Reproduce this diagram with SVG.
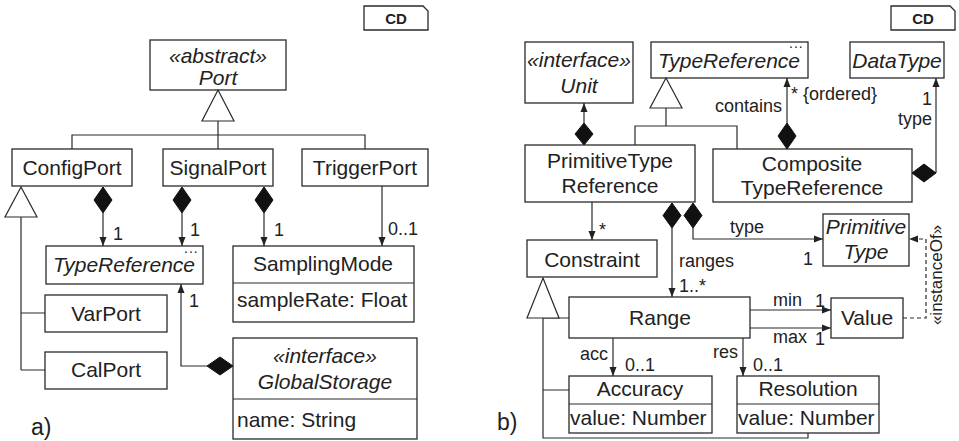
<svg xmlns="http://www.w3.org/2000/svg" width="959" height="441" viewBox="0 0 959 441">
<defs>
<marker id="arr" markerUnits="userSpaceOnUse" markerWidth="10" markerHeight="8" refX="9" refY="4" orient="auto">
<path d="M0,0.5 L9,4 L0,7.5 Z" fill="#222"/>
</marker>
<style>
.box{fill:#fff;stroke:#2a2a2a;stroke-width:1.3}
.ln{fill:none;stroke:#2a2a2a;stroke-width:1.2}
.dash{fill:none;stroke:#2a2a2a;stroke-width:1.2;stroke-dasharray:4 3}
.gen{fill:#fff;stroke:#2a2a2a;stroke-width:1.2}
.dia{fill:#111;stroke:#111;stroke-width:1}
text{font-family:"Liberation Sans",Arial,Helvetica,sans-serif;fill:#222}
.t{font-size:21px}
.c{text-anchor:middle}
.i{font-style:italic}
.s{font-size:18px}
.dots{font-size:14px;letter-spacing:1px}
.cd{font-size:15px;font-weight:bold;text-anchor:middle}
.lab{font-size:23px}
</style>
</defs>
<rect width="959" height="441" fill="#fff"/>

<!-- Panel a -->
<g id="cd-a"><path class="box" d="M364,6 H423 L428,11 V30 H364 Z"/><text class="cd" x="396" y="24">CD</text></g>
<g id="port"><rect class="box" x="150" y="40" width="136" height="50"/><text class="t c i" x="218" y="63">«abstract»</text><text class="t c i" x="218" y="85">Port</text></g>
<g id="configport"><rect class="box" x="12" y="149" width="120" height="37"/><text class="t c" x="72" y="175">ConfigPort</text></g>
<g id="signalport"><rect class="box" x="163" y="149" width="110" height="37"/><text class="t c" x="218" y="175">SignalPort</text></g>
<g id="triggerport"><rect class="box" x="302" y="149" width="126" height="37"/><text class="t c" x="365" y="175">TriggerPort</text></g>
<g id="typereference-a"><rect class="box" x="46" y="246" width="157" height="38"/><text class="t c i" x="124" y="272">TypeReference</text><text class="dots" x="184" y="253">...</text></g>
<g id="samplingmode"><rect class="box" x="233" y="246" width="181" height="76"/><line class="ln" x1="233" y1="283" x2="414" y2="283"/><text class="t c" x="323" y="271">SamplingMode</text><text class="t" x="237" y="307">sampleRate: Float</text></g>
<g id="varport"><rect class="box" x="45" y="295" width="122" height="37"/><text class="t c" x="106" y="321">VarPort</text></g>
<g id="calport"><rect class="box" x="45" y="352" width="122" height="37"/><text class="t c" x="106" y="377">CalPort</text></g>
<g id="globalstorage"><rect class="box" x="233" y="338" width="184" height="101"/><line class="ln" x1="233" y1="399" x2="417" y2="399"/><text class="t c i" x="325" y="363">«interface»</text><text class="t c i" x="325" y="389">GlobalStorage</text><text class="t" x="237" y="427">name: String</text></g>
<text class="lab" x="31" y="435">a)</text>

<!-- Panel b -->
<g id="cd-b"><path class="box" d="M891,6 H950 L955,11 V30 H891 Z"/><text class="cd" x="923" y="24">CD</text></g>
<g id="unit"><rect class="box" x="525" y="42" width="108" height="61"/><text class="t c i" x="579" y="67">«interface»</text><text class="t c i" x="579" y="93">Unit</text></g>
<g id="typereference-b"><rect class="box" x="651" y="42" width="157" height="36"/><text class="t c i" x="729" y="68">TypeReference</text><text class="dots" x="789" y="48">...</text></g>
<g id="datatype"><rect class="box" x="850" y="42" width="94" height="36"/><text class="t c i" x="897" y="68">DataType</text></g>
<g id="primitivetypereference"><rect class="box" x="525" y="145" width="170" height="57"/><text class="t c" x="610" y="168">PrimitiveType</text><text class="t c" x="610" y="193">Reference</text></g>
<g id="compositetypereference"><rect class="box" x="713" y="149" width="199" height="53"/><text class="t c" x="812" y="171">Composite</text><text class="t c" x="812" y="195">TypeReference</text></g>
<g id="constraint"><rect class="box" x="527" y="240" width="130" height="37"/><text class="t c" x="592" y="267">Constraint</text></g>
<g id="primitivetype"><rect class="box" x="823" y="214" width="86" height="52"/><text class="t c i" x="866" y="234">Primitive</text><text class="t c i" x="866" y="259">Type</text></g>
<g id="range"><rect class="box" x="569" y="297" width="181" height="41"/><text class="t c" x="660" y="325">Range</text></g>
<g id="value"><rect class="box" x="831" y="298" width="72" height="40"/><text class="t c" x="867" y="325">Value</text></g>
<g id="accuracy"><rect class="box" x="569" y="376" width="143" height="57"/><line class="ln" x1="569" y1="404" x2="712" y2="404"/><text class="t c" x="640" y="396">Accuracy</text><text class="t" x="570" y="425">value: Number</text></g>
<g id="resolution"><rect class="box" x="737" y="376" width="142" height="57"/><line class="ln" x1="737" y1="404" x2="879" y2="404"/><text class="t c" x="808" y="396">Resolution</text><text class="t" x="738" y="425">value: Number</text></g>
<text class="lab" x="497" y="430">b)</text>

<!-- Connectors -->
<g id="connectors">
<path class="ln" d="M218,121 V135 M72,149 V135 H365 V149 M218,135 V149"/>
<path class="gen" d="M218,90 L234,121 L202,121 Z"/>
<path class="ln" d="M103,213 V246" marker-end="url(#arr)"/>
<path class="dia" d="M103,187 L112,200 L103,213 L94,200 Z"/>
<text class="s" x="113" y="240">1</text>
<path class="ln" d="M182,213 V246" marker-end="url(#arr)"/>
<path class="dia" d="M182,187 L191,200 L182,213 L173,200 Z"/>
<text class="s" x="190" y="236">1</text>
<path class="ln" d="M264,213 V246" marker-end="url(#arr)"/>
<path class="dia" d="M264,187 L273,200 L264,213 L255,200 Z"/>
<text class="s" x="274" y="236">1</text>
<path class="ln" d="M382,186 V246" marker-end="url(#arr)"/>
<text class="s" x="388" y="235">0..1</text>
<path class="ln" d="M21,217 V370 M21,313 H45 M21,370 H45"/>
<path class="gen" d="M21,187 L37,217 L5,217 Z"/>
<path class="ln" d="M207,366 H181 V284" marker-end="url(#arr)"/>
<path class="dia" d="M207,366 L220,357 L233,366 L220,375 Z"/>
<text class="s" x="189" y="307">1</text>

<path class="ln" d="M584,123 V103" marker-end="url(#arr)"/>
<path class="dia" d="M584,123 L593,134 L584,145 L575,134 Z"/>
<path class="ln" d="M666,108 V126 M635,145 V126 H737 V149"/>
<path class="gen" d="M666,78 L682,108 L650,108 Z"/>
<path class="ln" d="M787,123 V78" marker-end="url(#arr)"/>
<path class="dia" d="M787,123 L796,136 L787,149 L778,136 Z"/>
<text class="s" x="782" y="112" text-anchor="end">contains</text>
<text class="s" x="791" y="100">*</text>
<text class="s" x="803" y="100">{ordered}</text>
<path class="ln" d="M936,173 V78" marker-end="url(#arr)"/>
<path class="dia" d="M912,173 L924,164 L936,173 L924,182 Z"/>
<text class="s" x="932" y="105" text-anchor="end">1</text>
<text class="s" x="932" y="125" text-anchor="end">type</text>
<path class="ln" d="M592,202 V240" marker-end="url(#arr)"/>
<text class="s" x="599" y="236">*</text>
<path class="ln" d="M672,228 V297" marker-end="url(#arr)"/>
<path class="dia" d="M672,203 L681,215.5 L672,228 L663,215.5 Z"/>
<text class="s" x="679" y="267">ranges</text>
<text class="s" x="679" y="292">1..*</text>
<path class="ln" d="M693,228 V239 H823" marker-end="url(#arr)"/>
<path class="dia" d="M693,203 L702,215.5 L693,228 L684,215.5 Z"/>
<text class="s" x="730" y="233">type</text>
<text class="s" x="813" y="265" text-anchor="end">1</text>
<path class="dash" d="M903,318 H926 V239 H909" marker-end="url(#arr)"/>
<text font-size="17" text-anchor="middle" transform="translate(942,275) rotate(-90)">«instanceOf»</text>
<path class="ln" d="M750,310 H831" marker-end="url(#arr)"/>
<text class="s" x="773" y="306">min</text>
<text class="s" x="815" y="307">1</text>
<path class="ln" d="M750,328 H831" marker-end="url(#arr)"/>
<text class="s" x="773" y="343">max</text>
<text class="s" x="815" y="345">1</text>
<path class="ln" d="M613,338 V376" marker-end="url(#arr)"/>
<text class="s" x="580" y="360">acc</text>
<text class="s" x="625" y="371">0..1</text>
<path class="ln" d="M743,338 V376" marker-end="url(#arr)"/>
<text class="s" x="713" y="358">res</text>
<text class="s" x="753" y="371">0..1</text>
<path class="ln" d="M543,318 V438 H808 V433 M543,318 H569 M543,390 H569"/>
<path class="gen" d="M543,278 L559,318 L527,318 Z"/>
</g>
</svg>
